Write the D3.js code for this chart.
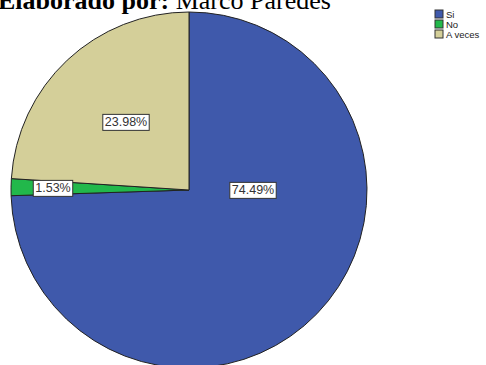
<!DOCTYPE html>
<html><head><meta charset="utf-8">
<script src="https://cdn.jsdelivr.net/npm/d3@7"></script>
<style>body{margin:0;background:#fff;overflow:hidden}</style>
</head><body>
<svg id="c" width="486" height="365"></svg>
<script>
const categories = ["Si", "No", "A veces"];
const values = [74.49, 1.53, 23.98];
const labels = ["74.49%", "1.53%", "23.98%"];
const colors = ["#3f59ab", "#22b84b", "#d4cf99"];

const svg = d3.select("#c");
const cx = 189, cy = 190, r = 178;

const pie = d3.pie().sort(null).value(d => d)(values);
const arc = d3.arc().innerRadius(0).outerRadius(r);
const g = svg.append("g").attr("transform", `translate(${cx},${cy})`);
g.selectAll("path").data(pie).join("path")
  .attr("d", arc).attr("fill", (d, i) => colors[i])
  .attr("stroke", "#222").attr("stroke-width", 1);

const title = svg.append("text").attr("x", -2).attr("y", 9)
  .attr("font-family", "Liberation Serif, Times New Roman, serif").attr("font-size", 26).attr("fill", "#000");
title.append("tspan").attr("font-weight", "bold").text("Elaborado por:");
title.append("tspan").text(" Marco Paredes");

const labelPos = [[64, 0], [-136, -2], [-63, -68]];
pie.forEach((d, i) => {
  const lg = g.append("g").attr("transform", `translate(${labelPos[i][0]},${labelPos[i][1]})`);
  const t = lg.append("text").attr("text-anchor", "middle").attr("dy", "0.35em")
    .attr("font-family", "Liberation Sans, Arial, sans-serif").attr("font-size", 12.5)
    .attr("fill", "#333").text(labels[i]);
  const bb = t.node().getBBox();
  lg.insert("rect", "text").attr("x", bb.x - 2).attr("y", bb.y - 1)
    .attr("width", bb.width + 4).attr("height", bb.height + 2)
    .attr("fill", "#fff").attr("stroke", "#333").attr("stroke-width", 1);
});

const leg = svg.append("g").attr("transform", "translate(435,10)");
categories.forEach((c, i) => {
  const row = leg.append("g").attr("transform", `translate(0,${i * 10})`);
  row.append("rect").attr("width", 8).attr("height", 8).attr("fill", colors[i])
    .attr("stroke", "#333").attr("stroke-width", 1);
  row.append("text").attr("x", 11).attr("y", 8)
    .attr("font-family", "Liberation Sans, Arial, sans-serif").attr("font-size", 9.5)
    .attr("fill", "#222").text(c);
});
</script>
</body></html>
